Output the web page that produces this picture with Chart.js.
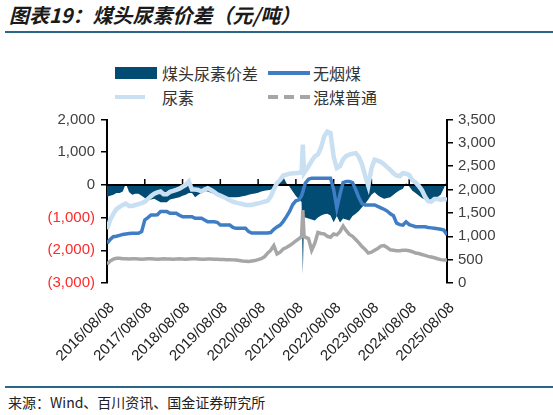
<!DOCTYPE html>
<html>
<head>
<meta charset="utf-8">
<script src="https://cdn.jsdelivr.net/npm/chart.js@4.4.1/dist/chart.umd.min.js"></script>
<style>
  body { margin: 0; width: 553px; height: 415px; overflow: hidden; position: relative; background: #fff;
         font-family: "Noto Sans CJK SC", sans-serif; }
  .title { position: absolute; left: 9px; top: 1px; font-size: 20px; line-height: 28px; font-style: italic;
           font-weight: bold; color: #1a1a1a; white-space: nowrap; }
  .rule { position: absolute; left: 5px; width: 548px; height: 2px; background: #2a6688; }
  .lg { position: absolute; font-size: 16px; line-height: 20px; color: #333; white-space: nowrap; }
  .sw { position: absolute; }
  .source { position: absolute; left: 8px; top: 393px; font-size: 14px; line-height: 18px; color: #222; }
  #wrap { position: absolute; left: 0; top: 100px; width: 553px; height: 280px; }
</style>
</head>
<body>
<div class="title">图表19：煤头尿素价差（元/吨）</div>
<div class="rule" style="top:31px"></div>

<div class="sw" style="left:115px; top:67px; width:42px; height:12px; background:#024b72"></div>
<div class="lg" style="left:162px; top:63px">煤头尿素价差</div>
<div class="sw" style="left:268px; top:71px; width:42px; height:4px; background:#3f7ec4"></div>
<div class="lg" style="left:313px; top:63px">无烟煤</div>
<div class="sw" style="left:115px; top:95px; width:30px; height:4px; background:#c9dff2"></div>
<div class="lg" style="left:162px; top:87px">尿素</div>
<div class="sw" style="left:268px; top:95px; width:42px; height:4px;
     background:repeating-linear-gradient(to right, #a6a6a6 0 10px, transparent 10px 16px)"></div>
<div class="lg" style="left:313px; top:87px">混煤普通</div>

<div id="wrap"><canvas id="chart" width="553" height="280"></canvas></div>

<div class="rule" style="top:386px"></div>
<div class="source">来源：Wind、百川资讯、国金证券研究所</div>

<script>
// months counted from 2016/08/08; three extra points for the 2021 spike
const months = [
  0,1,2,3,4,5,6,7,8,9,10,11,12,13,14,15,16,17,18,19,20,21,22,23,24,25,26,27,28,29,
  30,31,32,33,34,35,36,37,38,39,40,41,42,43,44,45,46,47,48,49,50,51,52,53,54,55,56,57,58,59,
  60,61,61.8,62.2,62.6,
  63,64,65,66,67,68,69,70,71,72,73,74,75,76,77,78,79,80,81,82,83,84,85,86,87,88,89,90,
  91,92,93,94,95,96,97,98,99,100,101,102,103,104,105,106,107,108
];

const yearLabels = ['2016/08/08','2017/08/08','2018/08/08','2019/08/08','2020/08/08',
                    '2021/08/08','2022/08/08','2023/08/08','2024/08/08','2025/08/08'];

// 煤头尿素价差 (left axis)
const spread = [
  -360,-330,-300,-250,-250,-200,40,-220,-300,-270,
  -270,-330,-400,-470,-450,-420,-480,-530,-530,-530,
  -450,-420,-400,-380,-330,-300,-250,-250,-380,-300,
  -250,-190,-200,-240,-280,-300,-320,-350,-380,-380,
  -380,-380,-370,-350,-330,-300,-280,-260,-240,-200,
  -180,-160,-150,-80,0,150,250,50,-60,-200,
  -340,-450,
  -520,-2750,-1000,
  -1000,-1030,-1060,-1090,-1000,-935,-900,-885,-935,-1140,
  -950,-1150,-1030,-1060,-1090,-950,-880,-800,-680,-580,
  -450,-300,-225,-320,-380,-420,-400,-380,-300,-225,
  -160,-120,50,-50,-180,-250,-326,-400,-450,-520,
  -460,-400,-370,-300,-100,150
];

// 无烟煤 (right axis)
const anthracite = [
  850,930,990,1000,1020,1040,1050,1060,1063,1063,
  1063,1100,1350,1400,1457,1457,1460,1528,1528,1528,
  1493,1493,1493,1450,1420,1420,1420,1420,1385,1385,
  1385,1350,1312,1312,1312,1300,1241,1241,1241,1241,
  1190,1170,1170,1170,1170,1100,1070,1070,1070,1070,
  1070,1070,1080,1150,1200,1240,1320,1420,1530,1680,
  1760,1780,
  1870,1950,2050,
  2140,2220,2245,2245,2245,2245,2245,2245,2245,2000,
  1600,1900,2150,2173,2173,2150,2000,1830,1700,1672,
  1672,1672,1672,1640,1610,1580,1540,1480,1440,1280,
  1250,1240,1310,1250,1230,1205,1205,1205,1205,1190,
  1180,1170,1160,1150,1134,1030
];

// 尿素 (right axis)
const urea = [
  1150,1350,1480,1580,1630,1670,1700,1650,1650,1670,
  1690,1710,1740,1800,1860,1910,1940,1958,1900,1900,
  1950,1970,1994,2020,2060,2100,2170,2000,2000,1990,
  1960,2000,2030,1990,1950,1900,1870,1840,1810,1770,
  1740,1720,1705,1690,1672,1670,1672,1690,1705,1720,
  1740,1760,1850,2000,2140,2210,2300,2320,2340,2350,
  2350,2360,
  2360,2960,2360,
  2400,2500,2610,2710,2750,2900,3140,3240,3210,2700,
  2460,2500,2650,2720,2750,2770,2780,2700,2540,2300,
  2080,2450,2640,2620,2590,2540,2480,2420,2350,2300,
  2290,2350,2340,2310,2200,2150,2080,1990,1850,1750,
  1740,1800,1800,1780,1800,1780
];

// 混煤普通 (right axis)
const blendCoal = [
  400,470,510,530,530,520,520,515,520,520,
  515,510,515,520,520,515,510,515,520,515,
  515,510,515,520,515,510,515,520,520,515,
  510,510,515,515,510,510,505,505,500,500,
  495,490,480,470,465,460,470,480,500,520,
  560,640,700,800,620,660,730,760,800,850,
  900,950,
  990,1560,1000,
  980,950,700,850,1080,1060,1050,1000,980,1050,
  1030,1100,1220,1120,1040,1000,930,860,780,720,
  640,660,700,740,790,800,760,710,700,690,
  690,700,700,690,670,640,630,610,590,570,
  555,540,520,500,490,490
];

function pts(values) {
  return months.map((m, i) => ({ x: m, y: values[i] }));
}

function fmt(v) {
  const s = Math.abs(v).toLocaleString('en-US');
  return v < 0 ? '(' + s + ')' : s;
}

// black zero line with year ticks pointing up, drawn just above the spread area
const zeroAxis = {
  id: 'zeroAxis',
  afterDatasetDraw(chart, args) {
    if (args.index !== 0) return;
    const { ctx, chartArea, scales } = chart;
    const y0 = scales.y.getPixelForValue(0);
    ctx.save();
    ctx.strokeStyle = '#000';
    ctx.lineWidth = 2;
    ctx.beginPath();
    ctx.moveTo(chartArea.left, y0);
    ctx.lineTo(chartArea.right, y0);
    ctx.stroke();
    ctx.lineWidth = 1.5;
    ctx.beginPath();
    scales.x.ticks.forEach(t => {
      const px = scales.x.getPixelForValue(t.value);
      ctx.moveTo(px, y0);
      ctx.lineTo(px, y0 - 6);
    });
    ctx.stroke();
    ctx.restore();
  }
};

const tickFont = { family: 'Liberation Sans, Arial, sans-serif', size: 15 };

new Chart(document.getElementById('chart'), {
  type: 'line',
  data: {
    datasets: [{
      label: '煤头尿素价差',
      data: pts(spread),
      yAxisID: 'y',
      borderWidth: 0,
      borderColor: '#024b72',
      backgroundColor: '#024b72',
      fill: 'origin',
      pointRadius: 0,
      order: 10
    }, {
      label: '无烟煤',
      data: pts(anthracite),
      yAxisID: 'y1',
      borderColor: '#3f7ec4',
      borderWidth: 3.5,
      pointRadius: 0,
      fill: false,
      order: 3
    }, {
      label: '尿素',
      data: pts(urea),
      yAxisID: 'y1',
      borderColor: '#c9dff2',
      borderWidth: 4.5,
      pointRadius: 0,
      fill: false,
      order: 2
    }, {
      label: '混煤普通',
      data: pts(blendCoal),
      yAxisID: 'y1',
      borderColor: '#a6a6a6',
      borderWidth: 3.5,
      pointRadius: 0,
      fill: false,
      order: 1
    }]
  },
  options: {
    responsive: false,
    animation: false,
    layout: { padding: { top: 19.5, left: 0, right: 0, bottom: 0 } },
    plugins: { legend: { display: false }, tooltip: { enabled: false } },
    scales: {
      x: {
        type: 'linear',
        min: 0,
        max: 108,
        grid: { display: false, drawTicks: false },
        border: { display: false },
        ticks: {
          stepSize: 12,
          autoSkip: false,
          maxRotation: 45,
          minRotation: 45,
          padding: 16,
          labelOffset: 5,
          color: '#222',
          font: tickFont,
          callback: v => yearLabels[Math.round(v / 12)]
        },
        afterFit: s => { s.height = 97; }
      },
      y: {
        position: 'left',
        min: -3000,
        max: 2000,
        grid: { drawOnChartArea: false, color: '#000', lineWidth: 1.5, tickLength: 6 },
        border: { color: '#000', width: 2 },
        ticks: {
          stepSize: 1000,
          padding: 6,
          font: tickFont,
          color: c => (c.tick && c.tick.value < 0 ? '#ff2a2a' : '#404040'),
          callback: v => fmt(v)
        },
        afterFit: s => { s.width = 107; }
      },
      y1: {
        position: 'right',
        min: 0,
        max: 3500,
        grid: { drawOnChartArea: false, color: '#000', lineWidth: 1.5, tickLength: 6 },
        border: { color: '#000', width: 2 },
        ticks: {
          stepSize: 500,
          padding: 5,
          font: tickFont,
          color: '#404040',
          callback: v => fmt(v)
        },
        afterFit: s => { s.width = 106; }
      }
    }
  },
  plugins: [zeroAxis]
});
</script>
</body>
</html>
